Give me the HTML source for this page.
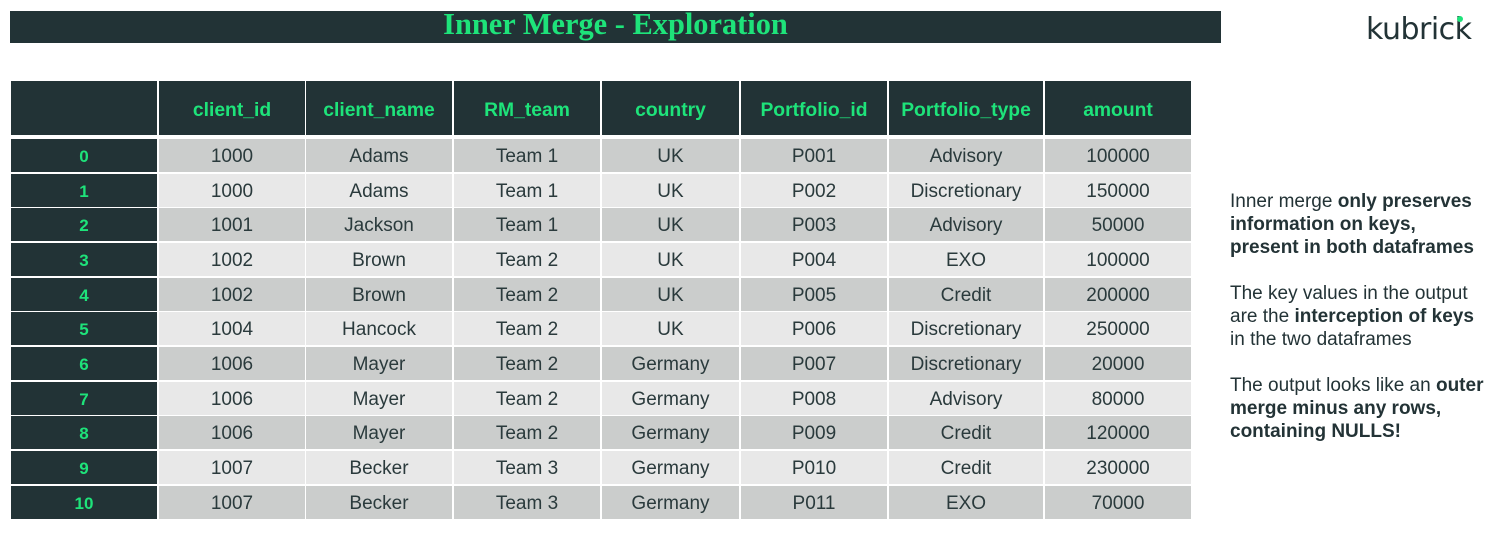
<!DOCTYPE html>
<html><head><meta charset="utf-8">
<style>
body{margin:0;width:1496px;height:546px;background:#fff;position:relative;overflow:hidden;font-family:"Liberation Sans",Arial,sans-serif;}
.c{position:absolute;display:flex;align-items:center;justify-content:center;box-sizing:border-box;font-size:19px;color:#2a3a3c;padding-top:2px;}
.h{background:#223336;color:#1ee37a;font-weight:bold;font-size:19.3px;padding-top:6px;}
.i{background:#223336;color:#1ee37a;font-weight:bold;font-size:17px;}
.g1{background:#cbcdcc;}
.g2{background:#e8e8e8;}
#title{position:absolute;left:10px;top:11px;width:1211px;height:32px;background:#223336;color:#1ee37a;font-family:"Liberation Serif",serif;font-weight:bold;font-size:30.4px;text-align:center;line-height:27px;}
#logo{position:absolute;left:1366px;top:12px;font-size:30px;color:#223336;letter-spacing:-0.5px;font-family:"DejaVu Sans","Liberation Sans",sans-serif;}
#dot{position:absolute;left:1457px;top:16px;width:6px;height:6px;border-radius:50%;background:#1ee37a;}
#notes{position:absolute;left:1230px;top:190px;width:266px;font-size:19px;line-height:23px;color:#233336;white-space:nowrap;}
#notes p{margin:0 0 23px 0;}
</style></head><body>
<div id="title">Inner Merge - Exploration</div>
<div id="logo">kubrick</div>
<div id="dot"></div>
<div id="table"></div>
<div id="notes">
<p>Inner merge <b>only preserves</b><br><b>information on keys,</b><br><b>present in both dataframes</b></p>
<p>The key values in the output<br>are the <b>interception of keys</b><br>in the two dataframes</p>
<p>The output looks like an <b>outer</b><br><b>merge minus any rows,</b><br><b>containing NULLS!</b></p>
</div>
<script>
var headers=["","client_id","client_name","RM_team","country","Portfolio_id","Portfolio_type","amount"];
var idx=["0","1","2","3","4","5","6","7","8","9","10"];
var clientIds=["1000","1000","1001","1002","1002","1004","1006","1006","1006","1007","1007"];
var clientNames=["Adams","Adams","Jackson","Brown","Brown","Hancock","Mayer","Mayer","Mayer","Becker","Becker"];
var teams=["Team 1","Team 1","Team 1","Team 2","Team 2","Team 2","Team 2","Team 2","Team 2","Team 3","Team 3"];
var countries=["UK","UK","UK","UK","UK","UK","Germany","Germany","Germany","Germany","Germany"];
var portIds=["P001","P002","P003","P004","P005","P006","P007","P008","P009","P010","P011"];
var portTypes=["Advisory","Discretionary","Advisory","EXO","Credit","Discretionary","Discretionary","Advisory","Credit","Credit","EXO"];
var amounts=["100000","150000","50000","100000","200000","250000","20000","80000","120000","230000","70000"];
var colL=[11,159,306,454,602,741,889,1045];
var colR=[157,305,452,600,739,887,1043,1191];
var t=document.getElementById('table');
function cell(x,y,w,h,cls,txt){var d=document.createElement('div');d.className='c '+cls;d.style.left=x+'px';d.style.top=y+'px';d.style.width=w+'px';d.style.height=h+'px';d.textContent=txt;t.appendChild(d);return d;}
for(var j=0;j<headers.length;j++){
 var d=cell(colL[j],81,colR[j]-colL[j],54,'h',headers[j]);
 
 
}
var cols=[idx,clientIds,clientNames,teams,countries,portIds,portTypes,amounts];
for(var i=0;i<idx.length;i++){
 var y=Math.round(139+i*34.65);
 for(var j=0;j<cols.length;j++){
  var cls=j==0?'i':(i%2==0?'g1':'g2');
  var d=cell(colL[j],y,colR[j]-colL[j],33,cls,cols[j][i]);
  
  
 }
}
</script>
</body></html>
